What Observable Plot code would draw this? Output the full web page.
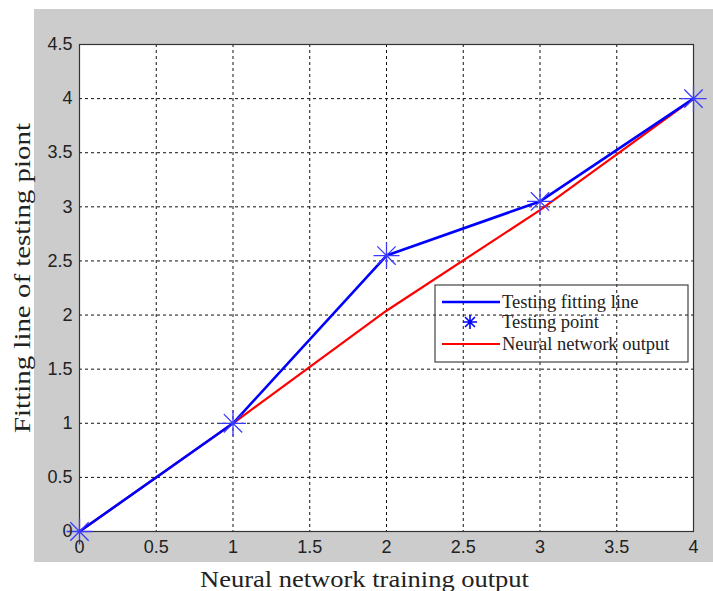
<!DOCTYPE html>
<html>
<head>
<meta charset="utf-8">
<script src="https://cdn.jsdelivr.net/npm/d3@7"></script>
<script src="https://cdn.jsdelivr.net/npm/@observablehq/plot@0.6"></script>
<style>
  body { margin: 0; background: #fff; }
  #wrap { position: relative; width: 713px; height: 591px; background: #fff; overflow: hidden; }
  #gray { position: absolute; left: 34px; top: 9px; width: 679px; height: 553px; background: #cccccc; }
  #chart { position: absolute; left: 0; top: 0; }
</style>
</head>
<body>
<div id="wrap"><div id="gray"></div><div id="chart"></div></div>
<script>
// ---- data ----
const xValues = [0, 1, 2, 3, 4];
const testingValues = [0, 1, 2.55, 3.05, 4];
const networkValues = [0, 1, 2.04, 2.97, 4];
const xTicks = [0, 0.5, 1, 1.5, 2, 2.5, 3, 3.5, 4];
const yTicks = [0, 0.5, 1, 1.5, 2, 2.5, 3, 3.5, 4, 4.5];
const xLabel = "Neural network training output";
const yLabel = "Fitting line of testing piont";
const legendLabels = ["Testing fitting line", "Testing point", "Neural network output"];

const testing = xValues.map((x, i) => ({x, y: testingValues[i]}));
const network = xValues.map((x, i) => ({x, y: networkValues[i]}));

// MATLAB-style 8-arm star marker
const star = {
  draw(context, size) {
    const r = Math.sqrt(size / Math.PI);
    const d = r * Math.SQRT1_2;
    context.moveTo(-r, 0); context.lineTo(r, 0);
    context.moveTo(0, -r); context.lineTo(0, r);
    context.moveTo(-d, -d); context.lineTo(d, d);
    context.moveTo(-d, d); context.lineTo(d, -d);
  }
};

const tickFont = "'Liberation Sans', Arial, sans-serif";
const serif = "'Liberation Serif', 'Times New Roman', serif";

const plot = Plot.plot({
  width: 713,
  height: 591,
  marginLeft: 79,
  marginRight: 20,
  marginTop: 44,
  marginBottom: 60,
  style: {background: "transparent", overflow: "visible"},
  x: {domain: [0, 4]},
  y: {domain: [0, 4.5]},
  marks: [
    Plot.frame({fill: "white", stroke: null}),
    Plot.gridX(xTicks, {stroke: "#111", strokeOpacity: 1, strokeWidth: 1, strokeDasharray: "3,3"}),
    Plot.gridY(yTicks, {stroke: "#111", strokeOpacity: 1, strokeWidth: 1, strokeDasharray: "3,3"}),
    Plot.frame({stroke: "#333", strokeWidth: 1.2}),
    Plot.line(network, {x: "x", y: "y", stroke: "#ff0000", strokeWidth: 2.2}),
    Plot.line(testing, {x: "x", y: "y", stroke: "#0000ff", strokeWidth: 2.6}),
    Plot.dot(testing, {x: "x", y: "y", symbol: star, r: 13, stroke: "#3b3bff", strokeWidth: 1.3, fill: "none"}),
    Plot.axisX(xTicks, {tickSize: 0, tickPadding: 9, fontSize: 18, fontFamily: tickFont, fill: "#222", label: null,
      tickFormat: d => String(d)}),
    Plot.axisY(yTicks, {tickSize: 0, tickPadding: 7, fontSize: 18, fontFamily: tickFont, fill: "#222", label: null,
      tickFormat: d => String(d)}),
    Plot.text([xLabel], {frameAnchor: "bottom", lineAnchor: "bottom", textAnchor: "middle", dx: -22, dy: 55,
      fontSize: 24, fontFamily: serif, fill: "#222", text: d => d, className: "xlab"}),
    Plot.text([yLabel], {frameAnchor: "left", rotate: -90, textAnchor: "middle", lineAnchor: "middle", dx: -57, dy: -10,
      fontSize: 24, fontFamily: serif, fill: "#222", text: d => d, className: "ylab"})
  ]
});

document.getElementById("chart").appendChild(plot);

const svg = d3.select(plot);
// stretch axis labels to the reference's widths
svg.selectAll(".xlab text").attr("textLength", 329).attr("lengthAdjust", "spacingAndGlyphs");
svg.selectAll(".ylab text").attr("textLength", 310).attr("lengthAdjust", "spacingAndGlyphs");

// legend (drawn inside the plot SVG)
const lg = svg.append("g").attr("transform", "translate(435,285)");
lg.append("rect").attr("width", 253).attr("height", 77)
  .attr("fill", "none").attr("stroke", "#444").attr("stroke-width", 1.2);
const rows = [17, 37, 59];
lg.append("line").attr("x1", 7).attr("x2", 65).attr("y1", rows[0]).attr("y2", rows[0])
  .attr("stroke", "#0000ff").attr("stroke-width", 2.6);
lg.append("path").attr("transform", `translate(35,${rows[1]})`)
  .attr("d", d3.symbol(star, Math.PI * 7 * 7)())
  .attr("stroke", "#0000ff").attr("stroke-width", 1.6).attr("fill", "none");
lg.append("line").attr("x1", 7).attr("x2", 65).attr("y1", rows[2]).attr("y2", rows[2])
  .attr("stroke", "#ff0000").attr("stroke-width", 2.2);
legendLabels.forEach((t, i) => {
  lg.append("text").attr("x", 67).attr("y", rows[i]).attr("dy", "0.35em")
    .attr("text-anchor", "start")
    .attr("font-family", serif).attr("font-size", 18.5).attr("fill", "#222").text(t);
});
</script>
</body>
</html>
